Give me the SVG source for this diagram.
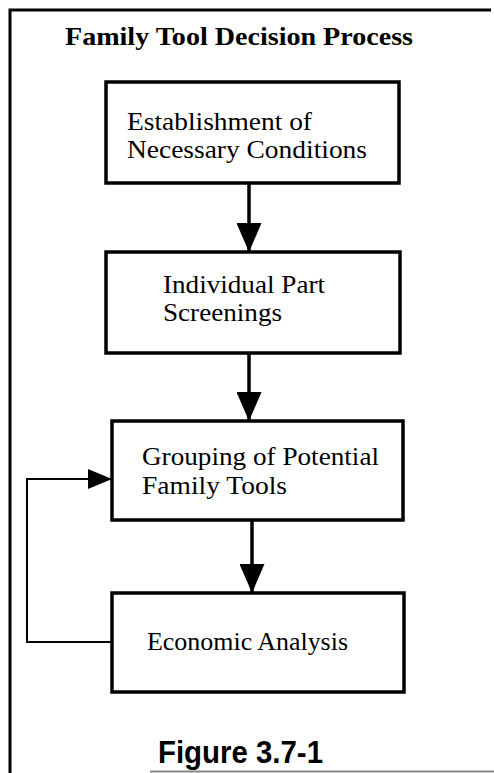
<svg xmlns="http://www.w3.org/2000/svg" width="494" height="773" viewBox="0 0 494 773">
<style>
.box{fill:#fff;stroke:#000;stroke-width:3.5}
.lbl{font-family:"Liberation Serif","Times New Roman",serif;font-size:25px;fill:#000}
.conn{fill:none;stroke:#000;stroke-width:3.5}
.fb{fill:none;stroke:#000;stroke-width:2}
</style>
<defs>
<marker id="ah" viewBox="0 0 29 25" refX="29" refY="12.5" markerWidth="29" markerHeight="25" markerUnits="userSpaceOnUse" orient="auto">
<path d="M0,0 L29,12.5 L0,25 Z" fill="#000"/>
</marker>
<marker id="ahs" viewBox="0 0 24 20" refX="24" refY="10" markerWidth="24" markerHeight="20" markerUnits="userSpaceOnUse" orient="auto">
<path d="M0,0 L24,10 L0,20 Z" fill="#000"/>
</marker>
</defs>
<rect width="494" height="773" fill="#fff"/>
<g id="frame">
<path d="M10,773 V10 H491" fill="none" stroke="#000" stroke-width="3"/>
<path d="M150,771.5 H494" fill="none" stroke="#888" stroke-width="2"/>
</g>
<g id="title">
<text x="65" y="45" font-family="Liberation Serif,'Times New Roman',serif" font-weight="bold" font-size="25" textLength="348" lengthAdjust="spacingAndGlyphs">Family Tool Decision Process</text>
</g>
<g id="connectors">
<path class="conn" d="M249,183 V252" marker-end="url(#ah)"/>
<path class="conn" d="M249,353 V421" marker-end="url(#ah)"/>
<path class="conn" d="M252,520 V593" marker-end="url(#ah)"/>
<path class="fb" d="M112,642 H27 V479 H112" marker-end="url(#ahs)"/>
</g>
<g id="n1">
<rect class="box" x="106" y="82" width="293" height="101"/>
<text class="lbl" x="127" y="130" textLength="185" lengthAdjust="spacingAndGlyphs">Establishment of</text>
<text class="lbl" x="127" y="158" textLength="240" lengthAdjust="spacingAndGlyphs">Necessary Conditions</text>
</g>
<g id="n2">
<rect class="box" x="106" y="252" width="294" height="101"/>
<text class="lbl" x="163" y="293" textLength="162" lengthAdjust="spacingAndGlyphs">Individual Part</text>
<text class="lbl" x="163" y="321" textLength="119" lengthAdjust="spacingAndGlyphs">Screenings</text>
</g>
<g id="n3">
<rect class="box" x="112" y="421" width="291" height="99"/>
<text class="lbl" x="142" y="465" textLength="237" lengthAdjust="spacingAndGlyphs">Grouping of Potential</text>
<text class="lbl" x="142" y="494" textLength="145" lengthAdjust="spacingAndGlyphs">Family Tools</text>
</g>
<g id="n4">
<rect class="box" x="112" y="593" width="292" height="99"/>
<text class="lbl" x="147" y="650" textLength="201" lengthAdjust="spacingAndGlyphs">Economic Analysis</text>
</g>
<g id="caption">
<text x="158" y="763" font-family="Liberation Sans,Arial,sans-serif" font-weight="bold" font-size="32" textLength="165" lengthAdjust="spacingAndGlyphs">Figure 3.7-1</text>
</g>
</svg>
